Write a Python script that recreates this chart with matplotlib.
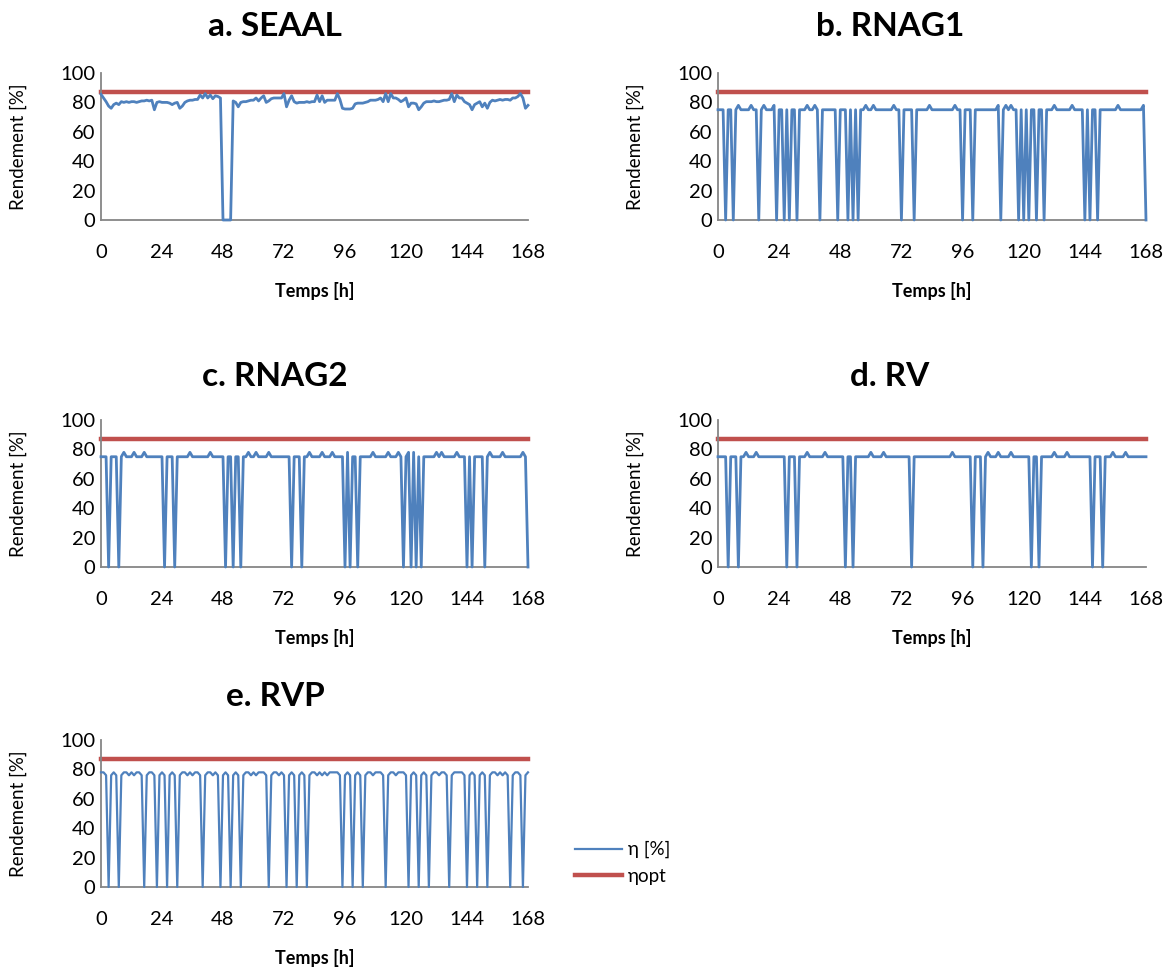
import matplotlib
matplotlib.use("Agg")
import matplotlib.pyplot as plt

plt.rcParams["font.family"] = ["Lato", "DejaVu Sans"]

# ── Data (hourly efficiency, 0..168 h) ───────────────────────
hours = list(range(169))
eta_opt = 87

titles = ["a. SEAAL", "b. RNAG1", "c. RNAG2", "d. RV", "e. RVP"]

seaal = [
    85.5, 83, 80.5, 77.5, 76, 78.5, 79.5, 78.5, 80.5, 80, 80.5, 80,
    80.5, 80.5, 80, 80.5, 81, 81, 81.5, 81, 81.5, 75, 80, 80.5,
    80, 80, 80, 79.5, 78.5, 79.5, 80, 76, 77.5, 80, 81, 81.5,
    81.5, 82, 82, 85, 83, 86, 83, 85, 82.5, 84.5, 84, 83,
    0, 0, 0, 0, 81, 80, 77, 80, 80.5, 80.5, 81, 81.5,
    81.5, 83, 81, 83, 84.5, 80, 81, 82.5, 83, 83, 83, 83,
    86, 77, 81.5, 84.5, 80.5, 79.5, 80, 80, 80, 80.5, 80, 80.5,
    80.5, 85, 80.5, 84.5, 80, 81.5, 81.5, 81.5, 81.5, 86, 82, 76,
    75.5, 75.5, 75.5, 76, 79, 79.5, 79.5, 79.5, 80, 80.5, 81.5, 81.5,
    81.5, 82, 83, 80.5, 86, 80.5, 86, 83, 83, 82, 80.5, 81.5,
    83, 77, 79.5, 79.5, 79, 75, 77, 79.5, 80.5, 80.5, 80.5, 81,
    80.5, 80.5, 81, 81.5, 81.5, 82, 86, 80.5, 85, 83, 83, 80.5,
    79.5, 78.5, 75, 78.5, 79.5, 80.5, 77, 79.5, 76, 80, 81.5, 81,
    81.5, 82, 81.5, 82, 82, 81.5, 83, 83, 84, 86, 83, 76,
    78,
]

rnag1 = [
    75, 75, 75, 0, 75, 75, 0, 75, 78, 75, 75, 75,
    75, 78, 75, 75, 0, 75, 78, 75, 75, 75, 78, 0,
    75, 75, 0, 75, 0, 75, 75, 0, 75, 75, 75, 78,
    75, 75, 78, 75, 0, 75, 75, 75, 75, 75, 75, 0,
    75, 75, 75, 0, 75, 0, 75, 0, 75, 75, 78, 75,
    75, 78, 75, 75, 75, 75, 75, 75, 75, 78, 75, 75,
    0, 75, 75, 75, 75, 0, 75, 75, 75, 75, 75, 78,
    75, 75, 75, 75, 75, 75, 75, 75, 75, 78, 75, 75,
    0, 75, 75, 75, 0, 75, 75, 75, 75, 75, 75, 75,
    75, 75, 78, 0, 75, 78, 75, 78, 75, 75, 0, 75,
    0, 75, 0, 75, 75, 0, 75, 75, 0, 75, 75, 75,
    78, 75, 75, 75, 75, 75, 75, 78, 75, 75, 75, 75,
    0, 75, 0, 75, 75, 0, 75, 75, 75, 75, 75, 75,
    75, 78, 75, 75, 75, 75, 75, 75, 75, 75, 75, 78,
    0,
]

rnag2 = [
    75, 75, 75, 0, 75, 75, 75, 0, 75, 78, 75, 75,
    75, 78, 75, 75, 75, 78, 75, 75, 75, 75, 75, 75,
    75, 0, 75, 75, 75, 0, 75, 75, 75, 75, 75, 78,
    75, 75, 75, 75, 75, 75, 75, 78, 75, 75, 75, 75,
    75, 0, 75, 75, 0, 75, 75, 0, 75, 75, 78, 75,
    75, 78, 75, 75, 75, 75, 78, 75, 75, 75, 75, 75,
    75, 75, 75, 0, 75, 75, 75, 0, 75, 75, 78, 75,
    75, 75, 75, 78, 75, 75, 75, 78, 75, 75, 75, 75,
    0, 78, 0, 75, 75, 0, 75, 75, 75, 75, 75, 78,
    75, 75, 75, 75, 75, 78, 75, 75, 75, 78, 75, 0,
    75, 78, 0, 78, 0, 75, 0, 75, 75, 75, 75, 75,
    78, 75, 78, 75, 75, 75, 75, 75, 78, 75, 75, 75,
    0, 75, 0, 75, 75, 75, 75, 0, 75, 78, 75, 75,
    75, 75, 78, 75, 75, 75, 75, 75, 75, 75, 78, 75,
    0,
]

rv = [
    75, 75, 75, 75, 0, 75, 75, 75, 0, 75, 75, 78,
    75, 75, 75, 78, 75, 75, 75, 75, 75, 75, 75, 75,
    75, 75, 75, 0, 75, 75, 75, 0, 75, 75, 75, 78,
    75, 75, 75, 75, 75, 75, 78, 75, 75, 75, 75, 75,
    75, 75, 0, 75, 75, 0, 75, 75, 75, 75, 75, 75,
    78, 75, 75, 75, 75, 78, 75, 75, 75, 75, 75, 75,
    75, 75, 75, 75, 0, 75, 75, 75, 75, 75, 75, 75,
    75, 75, 75, 75, 75, 75, 75, 75, 78, 75, 75, 75,
    75, 75, 75, 75, 0, 75, 75, 75, 0, 75, 78, 75,
    75, 75, 78, 75, 75, 75, 75, 78, 75, 75, 75, 75,
    75, 75, 75, 0, 75, 75, 0, 75, 75, 75, 75, 75,
    78, 75, 75, 75, 75, 78, 75, 75, 75, 75, 75, 75,
    75, 75, 75, 0, 75, 75, 75, 0, 75, 75, 75, 78,
    75, 75, 75, 75, 78, 75, 75, 75, 75, 75, 75, 75,
    75,
]

rvp = [
    78, 78, 76, 0, 76, 78, 76, 0, 76, 78, 78, 76,
    78, 76, 78, 78, 76, 0, 76, 78, 78, 76, 0, 76,
    78, 76, 0, 76, 78, 76, 0, 76, 78, 78, 76, 78,
    76, 78, 78, 76, 0, 76, 78, 78, 76, 78, 76, 0,
    76, 78, 76, 0, 76, 78, 76, 0, 76, 78, 78, 76,
    78, 76, 78, 78, 78, 76, 0, 76, 78, 78, 76, 78,
    76, 0, 76, 78, 76, 0, 76, 78, 76, 0, 76, 78,
    78, 76, 78, 76, 78, 76, 78, 78, 78, 78, 76, 0,
    76, 78, 76, 0, 76, 78, 76, 0, 76, 78, 78, 76,
    78, 78, 78, 76, 0, 76, 78, 78, 76, 78, 78, 78,
    76, 0, 76, 78, 76, 0, 76, 78, 76, 0, 76, 78,
    78, 76, 78, 78, 76, 0, 76, 78, 78, 78, 78, 76,
    0, 76, 78, 76, 0, 76, 78, 76, 0, 76, 78, 78,
    76, 78, 76, 78, 76, 0, 76, 78, 78, 76, 0, 76,
    78,
]

series = [seaal, rnag1, rnag2, rv, rvp]

# ── Layout (pixel boxes of the plot areas, title centres) ────
W, H = 1171, 967
boxes = [
    (101, 73, 528, 220),
    (718, 73, 1146, 220),
    (101, 420, 528, 567),
    (718, 420, 1146, 567),
    (101, 740, 528, 887),
]
title_xy = [(275, 27), (890, 27), (275, 376), (890, 376), (275, 697)]

BLUE = "#4F81BD"
RED = "#C0504D"
GREY = "#868686"

fig = plt.figure(figsize=(W / 100, H / 100), dpi=100)

for (x0, y0, x1, y1), (tx, ty), title, values in zip(boxes, title_xy, titles, series):
    ax = fig.add_axes([x0 / W, 1 - y1 / H, (x1 - x0) / W, (y1 - y0) / H])
    ax.plot(hours, values, color=BLUE, lw=2.0, solid_joinstyle="round",
            clip_on=False, label="η [%]", zorder=3)
    ax.plot([hours[0], hours[-1]], [eta_opt, eta_opt], color=RED, lw=3.2,
            clip_on=False, label="ηopt", zorder=2)

    ax.set_xlim(0, 168)
    ax.set_ylim(0, 100)
    ax.set_xticks(range(0, 169, 24))
    ax.set_yticks(range(0, 101, 20))
    ax.tick_params(length=0, labelsize=14.5)
    ax.tick_params(axis="x", pad=17)
    ax.tick_params(axis="y", pad=4)
    for side in ("top", "right"):
        ax.spines[side].set_visible(False)
    for side in ("left", "bottom"):
        ax.spines[side].set_color(GREY)
        ax.spines[side].set_linewidth(1.3)

    ax.set_xlabel("Temps [h]", fontsize=13, fontweight="bold", va="center")
    ax.set_ylabel("Rendement [%]", fontsize=13.5, va="center")
    ax.xaxis.set_label_coords(0.5, -71 / (y1 - y0))
    ax.yaxis.set_label_coords(-83 / (x1 - x0), 0.5)

    fig.text(tx / W, 1 - ty / H, title, fontsize=24, fontweight="bold",
             ha="center", va="center")

handles, labels = ax.get_legend_handles_labels()
handles[0].set_linewidth(1.6)
fig.legend(handles, labels, loc="upper left",
           bbox_to_anchor=(575 / W, 1 - 841 / H), frameon=False,
           fontsize=13.5, handlelength=2.5, handletextpad=0.3,
           labelspacing=0.5, borderpad=0, borderaxespad=0)

fig.savefig("out.png", dpi=100)
